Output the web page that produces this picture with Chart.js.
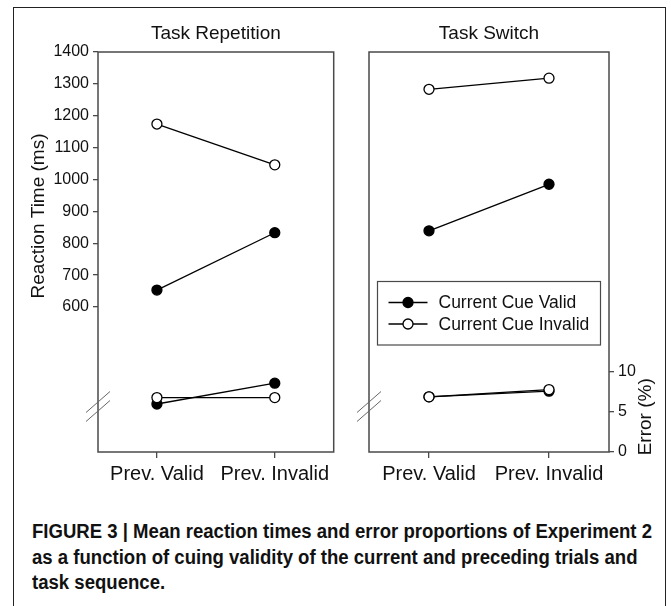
<!DOCTYPE html>
<html>
<head>
<meta charset="utf-8">
<script src="https://cdn.jsdelivr.net/npm/chart.js@4.4.0/dist/chart.umd.min.js"></script>
<style>
  body { margin: 0; background: #fff; width: 671px; height: 606px; overflow: hidden; position: relative; }
  #frame { position: absolute; left: 13px; top: 7px; width: 651px; height: 640px; border: 1.5px solid #222; border-bottom: none; }
  canvas { position: absolute; top: 0; }
  #left { left: 0; }
  #right { left: 340px; }
  #caption { position: absolute; left: 32px; top: 519px; font-family: "Liberation Sans", Arial, sans-serif;
             font-weight: bold; font-size: 20px; line-height: 25.5px; color: #111; white-space: nowrap;
             transform-origin: 0 0; }
</style>
</head>
<body>
<div id="frame"></div>
<canvas id="left" width="340" height="490"></canvas>
<canvas id="right" width="325" height="490"></canvas>
<div id="caption"><span id="cap1">FIGURE 3 | Mean reaction times and error proportions of Experiment 2</span><br>as a function of cuing validity of the current and preceding trials and<br>task sequence.</div>
<script>
const categories = ['Prev. Valid', 'Prev. Invalid'];
const seriesNames = ['Current Cue Valid', 'Current Cue Invalid'];
const rtTicks = [600, 700, 800, 900, 1000, 1100, 1200, 1300, 1400];
const errTicks = [0, 5, 10];

// Task repetition
const repValidRT = [653, 833];
const repInvalidRT = [1174, 1046];
const repValidErr = [6.0, 8.6];
const repInvalidErr = [6.8, 6.8];

// Task switch
const swValidRT = [839, 985];
const swInvalidRT = [1283, 1318];
const swValidErr = [6.9, 7.6];
const swInvalidErr = [6.9, 7.8];

const FONT = '"Liberation Sans", Arial, sans-serif';
const AXIS = '#4a4a4a';
const TEXT = '#111';

// the caption font is condensed in the original
const cap1 = document.getElementById('cap1');
document.getElementById('caption').style.transform = 'scaleX(' + (620 / cap1.getBoundingClientRect().width) + ')';

function series(data, filled, axis) {
    return {
        data: data,
        yAxisID: axis,
        borderColor: '#000',
        borderWidth: 1.3,
        pointRadius: 5,
        pointBorderWidth: 1.3,
        pointBorderColor: '#000',
        pointBackgroundColor: filled ? '#000' : '#fff',
        tension: 0,
        order: filled ? 2 : 1
    };
}

const panelBox = {
    id: 'panelBox',
    beforeDatasetsDraw(chart) {
        const a = chart.chartArea, ctx = chart.ctx;
        ctx.save();
        ctx.strokeStyle = AXIS;
        ctx.lineWidth = 1.5;
        ctx.strokeRect(a.left, a.top, a.right - a.left, a.bottom - a.top);
        // axis break marks
        ctx.strokeStyle = '#666';
        ctx.lineWidth = 1;
        [402, 411].forEach(y => {
            ctx.beginPath();
            ctx.moveTo(a.left - 12, y + 10.5);
            ctx.lineTo(a.left + 12, y - 10.5);
            ctx.stroke();
        });
        ctx.restore();
    }
};

function drawRotated(ctx, text, x, y, size) {
    ctx.save();
    ctx.translate(x, y);
    ctx.rotate(-Math.PI / 2);
    ctx.font = size + 'px ' + FONT;
    ctx.fillStyle = TEXT;
    ctx.textAlign = 'center';
    ctx.textBaseline = 'middle';
    ctx.fillText(text, 0, 0);
    ctx.restore();
}

const rtTitle = {
    id: 'rtTitle',
    afterDraw(chart) {
        drawRotated(chart.ctx, 'Reaction Time (ms)', 39, chart.chartArea.top + 164, 19);
    }
};

const errTitle = {
    id: 'errTitle',
    afterDraw(chart) {
        drawRotated(chart.ctx, 'Error (%)', chart.chartArea.right + 37, chart.scales.yErr.getPixelForValue(4.4), 19);
    }
};

const cueLegend = {
    id: 'cueLegend',
    afterDraw(chart) {
        const ctx = chart.ctx, a = chart.chartArea;
        const x0 = a.left + 8.5, y0 = 281.5, w = 223, h = 63.5;
        ctx.save();
        ctx.fillStyle = '#fff';
        ctx.fillRect(x0, y0, w, h);
        ctx.strokeStyle = AXIS;
        ctx.lineWidth = 1.2;
        ctx.strokeRect(x0, y0, w, h);
        [0, 1].forEach(i => {
            const ds = chart.data.datasets[i];
            const y = y0 + 21 + i * 21.5;
            ctx.strokeStyle = '#000';
            ctx.lineWidth = 1.3;
            ctx.beginPath();
            ctx.moveTo(x0 + 11, y);
            ctx.lineTo(x0 + 50, y);
            ctx.stroke();
            ctx.beginPath();
            ctx.arc(x0 + 30.5, y, 5, 0, Math.PI * 2);
            ctx.fillStyle = ds.pointBackgroundColor;
            ctx.fill();
            ctx.stroke();
            ctx.fillStyle = TEXT;
            ctx.font = '17.5px ' + FONT;
            ctx.textAlign = 'left';
            ctx.textBaseline = 'middle';
            ctx.fillText(seriesNames[i], x0 + 61, y + 1);
        });
        ctx.restore();
    }
};

function makePanel(id, title, validRT, invalidRT, validErr, invalidErr, isLeft) {
    const plugins = [panelBox, isLeft ? rtTitle : errTitle];
    if (!isLeft) plugins.push(cueLegend);
    return new Chart(document.getElementById(id), {
        type: 'line',
        data: {
            labels: categories,
            datasets: [
                series(validRT, true, 'yRT'),
                series(invalidRT, false, 'yRT'),
                series(validErr, true, 'yErr'),
                series(invalidErr, false, 'yErr')
            ]
        },
        options: {
            responsive: false,
            animation: false,
            layout: { padding: { left: isLeft ? 0 : 29, right: isLeft ? 2 : 0, top: 0, bottom: 0 } },
            plugins: {
                legend: { display: false },
                tooltip: { enabled: false },
                title: {
                    display: true,
                    text: title,
                    fullSize: false,
                    color: TEXT,
                    font: { family: FONT, size: 19, weight: 'normal' },
                    padding: { top: 22, bottom: 7.2 }
                }
            },
            scales: {
                x: {
                    type: 'category',
                    offset: true,
                    grid: { offset: false, drawOnChartArea: false, drawTicks: true, tickLength: 6, color: AXIS, lineWidth: 1.3 },
                    border: { display: false },
                    ticks: { color: TEXT, font: { family: FONT, size: 20 }, padding: 4, maxRotation: 0, autoSkip: false },
                    afterFit: s => { s.height = 38; }
                },
                yRT: {
                    type: 'linear',
                    position: 'left',
                    display: isLeft,
                    min: 145,
                    max: 1400,
                    afterBuildTicks: s => { s.ticks = rtTicks.map(v => ({ value: v })); },
                    grid: { drawOnChartArea: false, tickLength: 5, color: AXIS, lineWidth: 1.3 },
                    border: { display: false },
                    ticks: { color: TEXT, font: { family: FONT, size: 16 }, padding: 4, callback: v => String(v) },
                    afterFit: s => { s.width = isLeft ? 98 : 0; }
                },
                yErr: {
                    type: 'linear',
                    position: 'right',
                    display: !isLeft,
                    min: 0,
                    max: 50,
                    afterBuildTicks: s => { s.ticks = errTicks.map(v => ({ value: v })); },
                    grid: { drawOnChartArea: false, tickLength: 5, color: AXIS, lineWidth: 1.3 },
                    border: { display: false },
                    ticks: { color: TEXT, font: { family: FONT, size: 16 }, padding: 4, callback: v => String(v) },
                    afterFit: s => { s.width = isLeft ? 0 : 56; }
                }
            }
        },
        plugins: plugins
    });
}

makePanel('left', 'Task Repetition', repValidRT, repInvalidRT, repValidErr, repInvalidErr, true);
makePanel('right', 'Task Switch', swValidRT, swInvalidRT, swValidErr, swInvalidErr, false);
</script>
</body>
</html>
